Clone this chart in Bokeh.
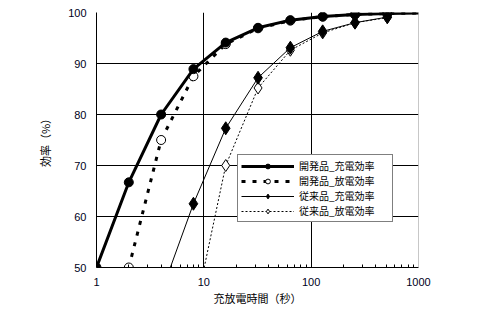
from bokeh.plotting import figure
from bokeh.models import (Range1d, FixedTicker, Legend, LegendItem, Span,
                          PrintfTickFormatter)
from bokeh.embed import file_html
from bokeh.resources import INLINE

# ---- data ----
names = ["開発品_充電効率", "開発品_放電効率", "従来品_充電効率", "従来品_放電効率"]

x1 = [1, 2, 4, 8, 16, 32, 64, 128, 256, 512, 1024]
y1 = [50, 66.7, 80, 88.9, 94.1, 97.0, 98.5, 99.2, 99.6, 99.8, 99.9]

x2 = [2, 4, 8, 16, 32, 64, 128, 256, 512, 1024]
y2 = [50, 75, 87.5, 93.8, 96.9, 98.4, 99.2, 99.6, 99.8, 99.9]

x3 = [4, 8, 16, 32, 64, 128, 256, 512]
y3 = [45, 62.5, 77.3, 87.2, 93.1, 96.3, 98.0, 99.1]

x4 = [8, 16, 32, 64, 128, 256, 512]
y4 = [40, 70, 85.2, 92.6, 96.0, 98.0, 99.0]

x_ticks = [1, 10, 100, 1000]
x_minor = [2, 3, 4, 5, 6, 7, 8, 9, 20, 30, 40, 50, 60, 70, 80, 90,
           200, 300, 400, 500, 600, 700, 800, 900]
y_ticks = [50, 60, 70, 80, 90, 100]
x_label = "充放電時間（秒）"
y_label = "効率（%）"

JP = "Noto Sans CJK JP"

p = figure(width=480, height=310, x_axis_type="log",
           x_range=Range1d(1, 1000), y_range=Range1d(50, 100),
           output_backend="svg", toolbar_location=None,
           min_border_left=96, min_border_right=62,
           min_border_top=12, min_border_bottom=43)
p.outline_line_color = None
p.background_fill_color = "white"
p.border_fill_color = "white"

# axes
p.xaxis.ticker = FixedTicker(ticks=x_ticks, minor_ticks=x_minor)
p.xaxis.formatter = PrintfTickFormatter(format="%d")
p.yaxis.ticker = FixedTicker(ticks=y_ticks)
for ax in (p.xaxis[0], p.yaxis[0]):
    ax.axis_line_color = "black"
    ax.axis_line_width = 1
    ax.major_tick_out = 0
    ax.major_tick_in = 0
    ax.major_label_text_font = "Liberation Sans"
    ax.major_label_text_font_size = "11px"
    ax.major_label_text_color = "#000020"
    ax.axis_label_text_font = JP
    ax.axis_label_text_font_size = "11px"
    ax.axis_label_text_font_style = "normal"
    ax.axis_label_text_color = "black"
p.xaxis.minor_tick_in = 3
p.xaxis.minor_tick_out = 0
p.xaxis.minor_tick_line_color = "black"
p.yaxis.minor_tick_line_color = None
p.xaxis.major_label_standoff = 10
p.yaxis.major_label_standoff = 10
p.xaxis.axis_label = x_label
p.yaxis.axis_label = y_label
p.xaxis.axis_label_standoff = 1
p.yaxis.axis_label_standoff = 12

# grids
p.xgrid.ticker = FixedTicker(ticks=[10, 100])
p.ygrid.ticker = FixedTicker(ticks=[60, 70, 80, 90, 100])
p.xgrid.grid_line_color = "black"
p.ygrid.grid_line_color = "black"
p.xgrid.grid_line_width = 1
p.ygrid.grid_line_width = 1

p.add_layout(Span(location=1000, dimension="height", line_color="#909090", line_width=1))

# series (drawn 4,3,2,1 so 1 is on top)
l4 = p.line(x4, y4, line_color="black", line_width=1, line_dash="2 2")
m4 = p.scatter(x4, y4, marker="diamond", size=12, fill_color="white", line_color="black", line_width=1)
l3 = p.line(x3, y3, line_color="black", line_width=1)
m3 = p.scatter(x3, y3, marker="diamond", size=13, fill_color="black", line_color="black")
l2 = p.line(x2, y2, line_color="black", line_width=3, line_dash="4 7")
m2 = p.scatter(x2[:-1], y2[:-1], marker="circle", size=9, fill_color="white", line_color="black", line_width=1)
l1 = p.line(x1, y1, line_color="black", line_width=3)
m1 = p.scatter(x1[:-1], y1[:-1], marker="circle", size=9, fill_color="black", line_color="black")

legend = Legend(items=[
    LegendItem(label=names[0], renderers=[l1, m1]),
    LegendItem(label=names[1], renderers=[l2, m2]),
    LegendItem(label=names[2], renderers=[l3, m3]),
    LegendItem(label=names[3], renderers=[l4, m4]),
], location=(141, 45))
legend.label_text_font = JP
legend.label_text_font_size = "10px"
legend.label_text_color = "black"
legend.glyph_width = 53
legend.glyph_height = 12
legend.label_height = 12
legend.label_width = 90
legend.label_standoff = 5
legend.padding = 3
legend.spacing = 0
legend.margin = 0
legend.border_line_color = "black"
legend.border_line_width = 1
legend.background_fill_color = "white"
legend.background_fill_alpha = 1
p.add_layout(legend, "center")

open("out.html", "w").write(file_html(p, INLINE))
